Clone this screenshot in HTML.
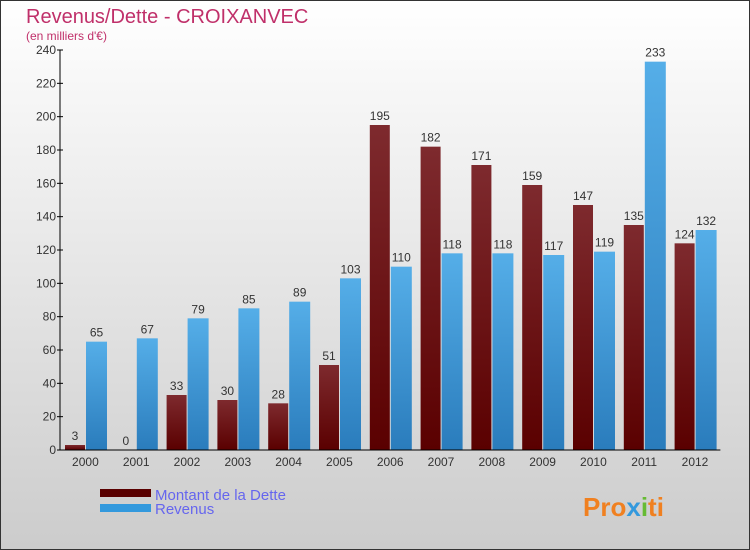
<!DOCTYPE html>
<html><head><meta charset="utf-8"><style>
body{margin:0;width:750px;height:550px;overflow:hidden;font-family:"Liberation Sans",sans-serif}
#c{position:absolute;left:0;top:0;width:748px;height:548px;border:1px solid #333;background:linear-gradient(#ffffff,#cccccc)}
</style></head><body>
<div id="c">
<svg id="s" width="750" height="550" style="position:absolute;left:-1px;top:-1px">
<defs>
<linearGradient id="gd" x1="0" y1="0" x2="0" y2="1"><stop offset="0" stop-color="#7e2a2e"/><stop offset="1" stop-color="#5a0000"/></linearGradient>
<linearGradient id="gr" x1="0" y1="0" x2="0" y2="1"><stop offset="0" stop-color="#55aee8"/><stop offset="1" stop-color="#2a7cbc"/></linearGradient>
</defs>
<text x="26" y="23" font-size="20" fill="#c0306a">Revenus/Dette - CROIXANVEC</text>
<text x="26" y="40" font-size="12" fill="#c0306a">(en milliers d'€)</text>
<g id="plot"></g>
<rect x="100" y="489" width="51" height="8" fill="#5a0000"/>
<rect x="100" y="504" width="51" height="8" fill="#3399dd"/>
<text x="155" y="500" font-size="15" fill="#6666ee">Montant de la Dette</text>
<text x="155" y="514" font-size="15" fill="#6666ee">Revenus</text>
<text x="583" y="516" font-size="26" font-weight="bold" fill="#f08020">Pro<tspan fill="#3399dd">x</tspan><tspan fill="#66bb33">i</tspan>ti</text>
</svg></div>
<script>
const years=["2000","2001","2002","2003","2004","2005","2006","2007","2008","2009","2010","2011","2012"];
const dette=[3,0,33,30,28,51,195,182,171,159,147,135,124];
const revenus=[65,67,79,85,89,103,110,118,118,117,119,233,132];
const yTicks=[0,20,40,60,80,100,120,140,160,180,200,220,240];
const NS="http://www.w3.org/2000/svg";
const g=document.getElementById('plot');
const x0=60,gw=50.8,y0=450,ppu=400/240;
const y=v=>y0-v*ppu;
function el(t,a,txt){const e=document.createElementNS(NS,t);for(const k in a)e.setAttribute(k,a[k]);if(txt!==undefined)e.textContent=txt;g.appendChild(e);return e;}
yTicks.forEach(v=>{
 const t=el('line',{x1:x0-3,x2:x0+3,y1:y(v),y2:y(v),stroke:'#000'});
 
 
 const l=el('text',{x:x0-4,y:y(v)+4,'font-size':12,fill:'#333','text-anchor':'end'},v);
 
 
});
years.forEach((yr,i)=>{
 const gx=x0+i*gw;
 const bd=el('rect',{x:gx+5,y:y(dette[i]),width:20,height:dette[i]*ppu,fill:'url(#gd)'});
 
 
 const br=el('rect',{x:gx+26,y:y(revenus[i]),width:21,height:revenus[i]*ppu,fill:'url(#gr)'});
 
 
 const ld=el('text',{x:gx+15,y:y(dette[i])-5,'font-size':12,fill:'#333','text-anchor':'middle'},dette[i]);
 
 
 const lr=el('text',{x:gx+36.5,y:y(revenus[i])-5,'font-size':12,fill:'#333','text-anchor':'middle'},revenus[i]);
 
 
 const xl=el('text',{x:gx+gw/2,y:466,'font-size':12,fill:'#333','text-anchor':'middle'},yr);
 
 
});
const ya=el('line',{x1:x0,x2:x0,y1:y(240),y2:y0,stroke:'#000'});


const xa=el('line',{x1:x0,x2:x0+13*gw,y1:y0,y2:y0,stroke:'#000'});


</script>
</body></html>
